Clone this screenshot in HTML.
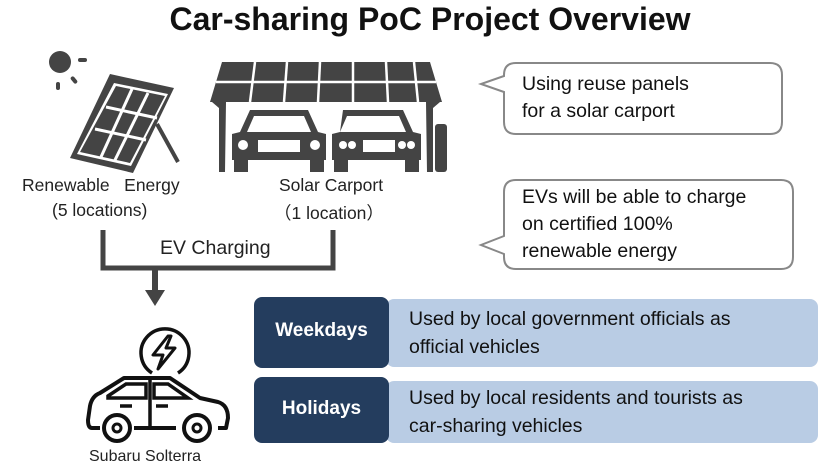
<!DOCTYPE html>
<html><head><meta charset="utf-8"><style>
body{margin:0;width:840px;height:473px;background:#fff;position:relative;overflow:hidden;font-family:"Liberation Sans",sans-serif;color:#222}
.t{position:absolute;white-space:nowrap}
</style></head><body>
<div class="t" style="left:0;width:860px;text-align:center;top:1px;font-size:32px;font-weight:bold;color:#111">Car-sharing PoC Project Overview</div>
<svg width="840" height="473" style="position:absolute;left:0;top:0">
<!-- sun -->
<circle cx="60" cy="62" r="11" fill="#444"/>
<rect x="78" y="58" width="9" height="4" rx="2" fill="#444"/>
<rect x="56" y="82" width="4" height="8" rx="2" fill="#444"/>
<rect x="72" y="76" width="4" height="8" rx="2" fill="#444" transform="rotate(-40 74 80)"/>
<!-- panel -->
<polygon points="110,74 174,88 133,173 70,158" fill="#444"/>
<polygon points="114,83 168,94 131,166 77,154" fill="#fff"/>
<polygon points="116,86 165,96 130,163 80,152" fill="#444"/>
<g stroke="#fff" stroke-width="3">
<line x1="132" y1="89" x2="101" y2="157"/><line x1="148" y1="93" x2="115" y2="160"/>
<line x1="106" y1="107" x2="157" y2="118"/><line x1="95" y1="129" x2="146" y2="140"/>
</g>
<line x1="157" y1="124" x2="178" y2="162" stroke="#444" stroke-width="4"/>
<!-- carport roof -->
<polygon points="222,62 430,62 442,102 210,102" fill="#444"/>
<g stroke="#fff" stroke-width="2.5">
<line x1="216" y1="82" x2="436" y2="82"/>
<line x1="255" y1="62" x2="250" y2="102"/><line x1="287" y1="62" x2="284" y2="102"/>
<line x1="320" y1="62" x2="318" y2="102"/><line x1="353" y1="62" x2="353" y2="102"/>
<line x1="386" y1="62" x2="388" y2="102"/><line x1="414" y1="62" x2="418" y2="102"/>
</g>
<path d="M212,102 L226,102 L225,172 L219,172 L219,108 Z" fill="#444"/>
<path d="M440,102 L426,102 L427,172 L433,172 L433,108 Z" fill="#444"/>
<!-- cars -->
<g fill="#444">
<path d="M250,110 L308,110 L318,132 L326,134 L326,160 L232,160 L232,134 L240,132 Z"/>
<rect x="234" y="155" width="14" height="17"/><rect x="310" y="155" width="14" height="17"/>
<path d="M343,110 L403,110 L413,132 L421,134 L421,160 L332,160 L332,134 L340,132 Z"/>
<rect x="334" y="155" width="14" height="17"/><rect x="405" y="155" width="14" height="17"/>
<rect x="435" y="124" width="12" height="48" rx="3"/>
</g>
<g fill="#fff">
<path d="M254,116 L304,116 L311,132 L247,132 Z"/>
<path d="M347,116 L399,116 L406,132 L340,132 Z"/>
<circle cx="243" cy="145" r="5"/><circle cx="315" cy="145" r="5"/>
<rect x="258" y="140" width="42" height="12"/>
<circle cx="343" cy="145" r="4"/><circle cx="352" cy="145" r="4"/><circle cx="402" cy="145" r="4"/><circle cx="411" cy="145" r="4"/>
<rect x="363" y="140" width="32" height="12"/>
</g>
<!-- bracket & arrow -->
<path d="M103,230 L103,268 L333,268 L333,230" fill="none" stroke="#444" stroke-width="5"/>
<rect x="152" y="268" width="6" height="22" fill="#444"/>
<polygon points="145,290 165,290 155,306" fill="#444"/>
<!-- bubbles -->
<path d="M516,63 L770,63 Q782,63 782,75 L782,122 Q782,134 770,134 L516,134 Q504,134 504,122 L504,92 L481,84 L504,76 L504,75 Q504,63 516,63 Z" fill="#fff" stroke="#888" stroke-width="2"/>
<path d="M516,180 L781,180 Q793,180 793,192 L793,257 Q793,269 781,269 L516,269 Q504,269 504,257 L504,254 L481,245 L504,236 L504,192 Q504,180 516,180 Z" fill="#fff" stroke="#888" stroke-width="2"/>
<!-- boxes -->
<rect x="386" y="299" width="432" height="68" rx="8" fill="#b9cce4"/>
<rect x="386" y="381" width="432" height="62" rx="8" fill="#b9cce4"/>
<rect x="254" y="297" width="135" height="71" rx="8" fill="#243d5e"/>
<rect x="254" y="377" width="135" height="66" rx="8" fill="#243d5e"/>
<!-- EV icon -->
<path d="M152,373 A24,24 0 1 1 178,373" fill="none" stroke="#111" stroke-width="3.5"/>
<polygon points="168,336 153,355 163,355 158,369 175,348 166,348 171,336" fill="none" stroke="#111" stroke-width="3" stroke-linejoin="round"/>
<path d="M100,428 L92,428 Q88,428 88,420 L90,406 Q92,396 100,393 L124,378 L170,378 L200,398 L218,402 Q228,405 228,418 L226,428 L218,428 M176,428 L134,428" fill="none" stroke="#111" stroke-width="4" stroke-linejoin="round"/>
<path d="M108,396 L126,384 L146,384 L146,398 L108,398 Z M154,384 L168,384 L188,398 L154,398 Z" fill="none" stroke="#111" stroke-width="3.5"/>
<line x1="150" y1="380" x2="150" y2="428" stroke="#111" stroke-width="3.5"/>
<line x1="120" y1="406" x2="132" y2="406" stroke="#111" stroke-width="3.5"/><line x1="156" y1="406" x2="168" y2="406" stroke="#111" stroke-width="3.5"/>
<circle cx="117" cy="428" r="13" fill="#fff" stroke="#111" stroke-width="4"/><circle cx="117" cy="428" r="4" fill="none" stroke="#111" stroke-width="3"/>
<circle cx="197" cy="428" r="13" fill="#fff" stroke="#111" stroke-width="4"/><circle cx="197" cy="428" r="4" fill="none" stroke="#111" stroke-width="3"/>
</svg>
<div class="t" style="left:22px;top:175px;font-size:17.5px">Renewable&nbsp;&nbsp; Energy</div>
<div class="t" style="left:52px;top:200px;font-size:17.5px">(5 locations)</div>
<div class="t" style="left:279px;top:175px;font-size:17.5px">Solar Carport</div>
<div class="t" style="left:274px;top:200px;font-size:17.5px">（1 location）</div>
<div class="t" style="left:160px;top:237px;font-size:19.5px">EV Charging</div>
<div class="t" style="left:522px;top:71px;font-size:19.5px;line-height:27px;color:#111">Using reuse panels<br>for a solar carport</div>
<div class="t" style="left:522px;top:184px;font-size:19.5px;line-height:27px;color:#111">EVs will be able to charge<br>on certified 100%<br>renewable energy</div>
<div class="t" style="left:254px;width:135px;text-align:center;top:320px;font-size:19px;font-weight:bold;color:#fff">Weekdays</div>
<div class="t" style="left:254px;width:135px;text-align:center;top:398px;font-size:19px;font-weight:bold;color:#fff">Holidays</div>
<div class="t" style="left:409px;top:305px;font-size:19.5px;line-height:28px;color:#111">Used by local government officials as<br>official vehicles</div>
<div class="t" style="left:409px;top:384px;font-size:19.5px;line-height:28px;color:#111">Used by local residents and tourists as<br>car-sharing vehicles</div>
<div class="t" style="left:89px;top:448px;font-size:16px;color:#222">Subaru Solterra</div>
</body></html>
